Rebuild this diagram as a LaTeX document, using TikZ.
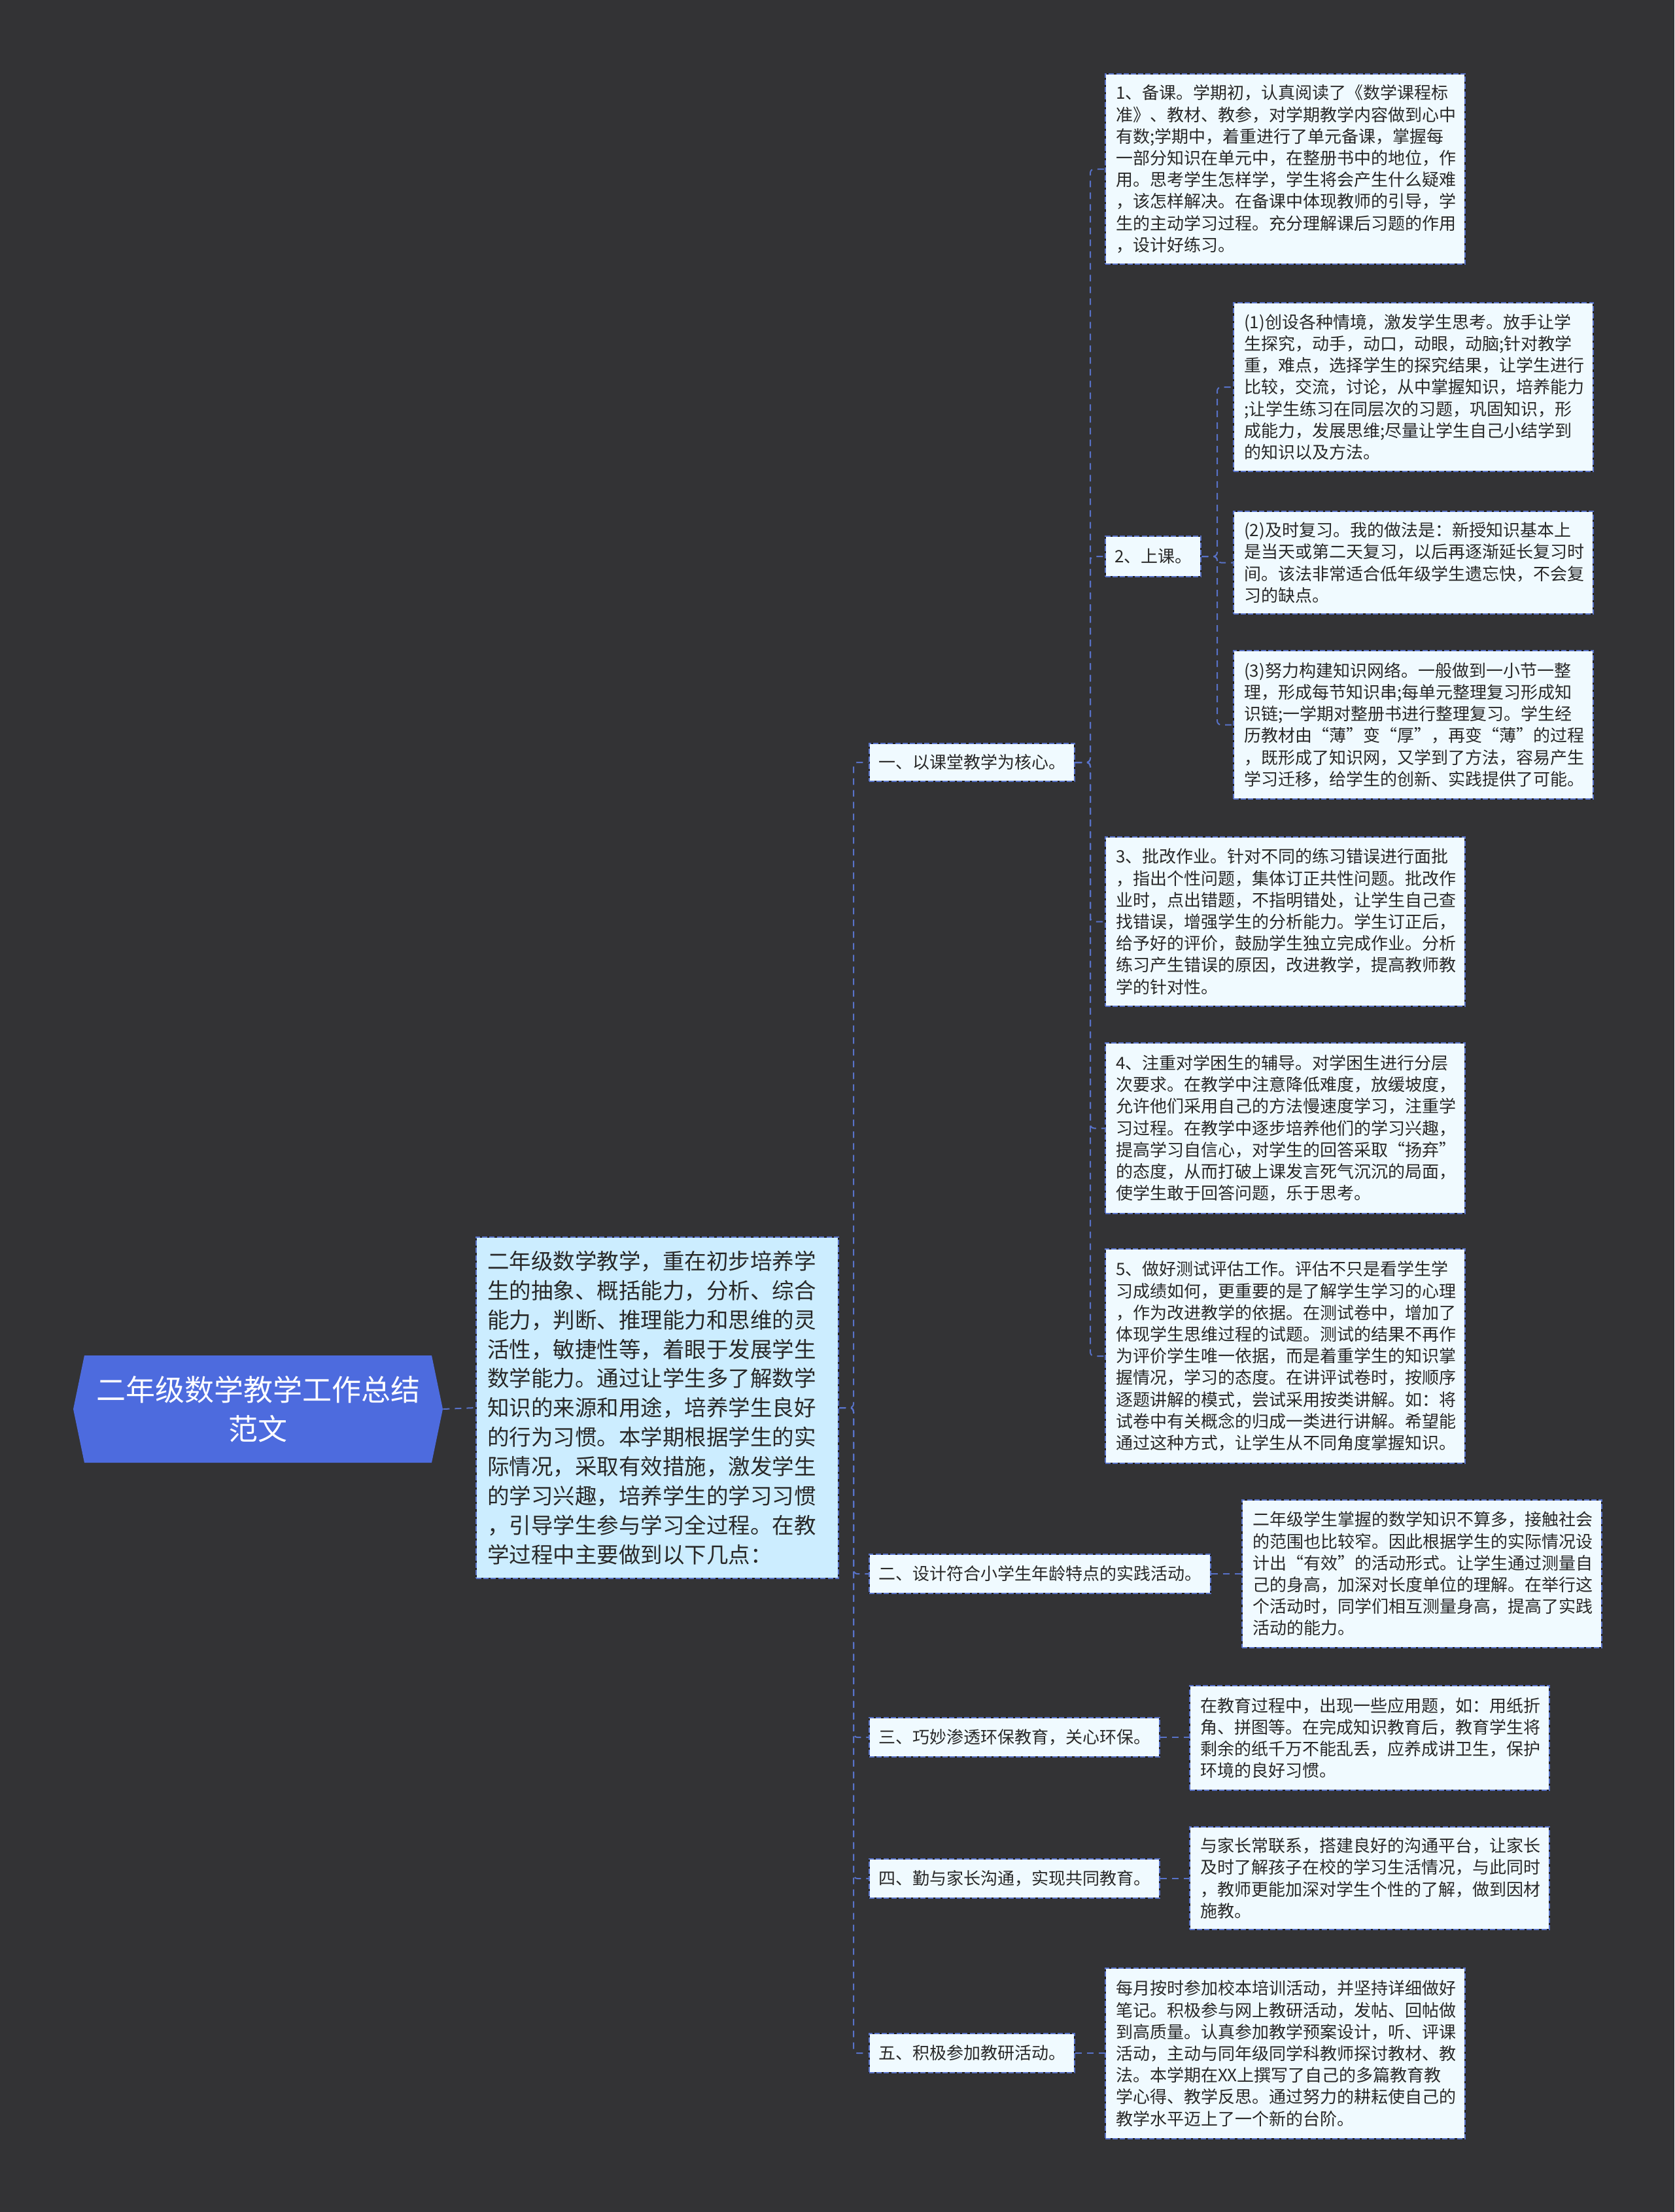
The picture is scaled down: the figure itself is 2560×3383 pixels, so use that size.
\documentclass[tikz,border=0pt]{standalone}
\usepackage{fontspec}
\setmainfont{Noto Sans CJK SC}
\definecolor{bgcol}{RGB}{51,51,53}
\definecolor{rootfill}{RGB}{77,107,222}
\definecolor{introfill}{RGB}{204,237,255}
\definecolor{boxfill}{RGB}{240,250,255}
\definecolor{bordercol}{RGB}{88,114,200}
\definecolor{edgedark}{RGB}{30,30,34}
\definecolor{textcol}{RGB}{40,40,40}
\newcommand{\detailfont}{\fontsize{13pt}{16.6pt}\selectfont}
\newcommand{\introfont}{\fontsize{16.75pt}{22.45pt}\selectfont}
\newcommand{\rootfont}{\fontsize{22.5pt}{30pt}\selectfont}
\tikzset{
  boxbase/.style={draw=edgedark, fill=boxfill, line width=1pt,
    postaction={draw=bordercol, line width=1pt, dash pattern=on 4pt off 1.6pt},
    text=textcol, align=left},
  detail/.style={boxbase, anchor=north west, inner xsep=8pt, inner ysep=3pt,
    text width=259pt, font=\detailfont},
  lvl/.style={boxbase, anchor=west, inner xsep=7pt, inner ysep=3pt,
    font=\detailfont},
  conn/.style={draw=bordercol, line width=1pt, dash pattern=on 5pt off 4pt, rounded corners=3pt},
}
\begin{document}
\begin{tikzpicture}[x=0.5pt,y=-0.5pt]
\fill[bgcol] (0,0) rectangle (2560,3383);
\useasboundingbox (0,0) rectangle (2560,3383);

% trunk coordinates
\coordinate (tr0) at (1305,0);
\coordinate (tr1) at (1667,0);
\coordinate (tr2) at (1861,0);

% root hexagon
\fill[rootfill] (129,2073) -- (660,2073) -- (677,2155) -- (660,2237) -- (129,2237) -- (112,2155) -- cycle;
\node[minimum width=282.5pt, minimum height=82pt, inner sep=0pt, align=center, text=white, font=\rootfont]
  (root) at (394.5,2155) {二年级数学教学工作总结\\范文};

% intro
\node[boxbase, fill=introfill, anchor=north west, inner xsep=8.5pt, text width=260pt,
  minimum height=261pt, font=\introfont] (intro) at (727,1891)
  {二年级数学教学，重在初步培养学\\生的抽象、概括能力，分析、综合\\能力，判断、推理能力和思维的灵\\活性，敏捷性等，着眼于发展学生\\数学能力。通过让学生多了解数学\\知识的来源和用途，培养学生良好\\的行为习惯。本学期根据学生的实\\际情况，采取有效措施，激发学生\\的学习兴趣，培养学生的学习习惯\\，引导学生参与学习全过程。在教\\学过程中主要做到以下几点：};

% level 1
\node[lvl, minimum height=29pt] (la) at (1328,1166) {一、以课堂教学为核心。};
\node[lvl, minimum height=30pt] (lb) at (1328,2407) {二、设计符合小学生年龄特点的实践活动。};
\node[lvl, minimum height=30pt] (lc) at (1328,2657) {三、巧妙渗透环保教育，关心环保。};
\node[lvl, minimum height=30pt] (ld) at (1328,2873) {四、勤与家长沟通，实现共同教育。};
\node[lvl, minimum height=30pt] (le) at (1328,3140) {五、积极参加教研活动。};

% children of 一
\node[detail, minimum height=145.5pt] (b1) at (1689,112)
  {1、备课。学期初，认真阅读了《数学课程标\\准》、教材、教参，对学期教学内容做到心中\\有数;学期中，着重进行了单元备课，掌握每\\一部分知识在单元中，在整册书中的地位，作\\用。思考学生怎样学，学生将会产生什么疑难\\，该怎样解决。在备课中体现教师的引导，学\\生的主动学习过程。充分理解课后习题的作用\\，设计好练习。};
\node[lvl, minimum height=31pt] (b2) at (1689,851) {2、上课。};
\node[detail, minimum height=129pt] (c1) at (1885,462)
  {(1)创设各种情境，激发学生思考。放手让学\\生探究，动手，动口，动眼，动脑;针对教学\\重，难点，选择学生的探究结果，让学生进行\\比较，交流，讨论，从中掌握知识，培养能力\\;让学生练习在同层次的习题，巩固知识，形\\成能力，发展思维;尽量让学生自己小结学到\\的知识以及方法。};
\node[detail, minimum height=78.5pt] (c2) at (1885,781)
  {(2)及时复习。我的做法是：新授知识基本上\\是当天或第二天复习，以后再逐渐延长复习时\\间。该法非常适合低年级学生遗忘快，不会复\\习的缺点。};
\node[detail, minimum height=113.5pt] (c3) at (1885,994)
  {(3)努力构建知识网络。一般做到一小节一整\\理，形成每节知识串;每单元整理复习形成知\\识链;一学期对整册书进行整理复习。学生经\\历教材由“薄”变“厚”，再变“薄”的过程\\，既形成了知识网，又学到了方法，容易产生\\学习迁移，给学生的创新、实践提供了可能。};
\node[detail, minimum height=129.5pt] (b3) at (1689,1279)
  {3、批改作业。针对不同的练习错误进行面批\\，指出个性问题，集体订正共性问题。批改作\\业时，点出错题，不指明错处，让学生自己查\\找错误，增强学生的分析能力。学生订正后，\\给予好的评价，鼓励学生独立完成作业。分析\\练习产生错误的原因，改进教学，提高教师教\\学的针对性。};
\node[detail, minimum height=130.5pt] (b4) at (1689,1594)
  {4、注重对学困生的辅导。对学困生进行分层\\次要求。在教学中注意降低难度，放缓坡度，\\允许他们采用自己的方法慢速度学习，注重学\\习过程。在教学中逐步培养他们的学习兴趣，\\提高学习自信心，对学生的回答采取“扬弃”\\的态度，从而打破上课发言死气沉沉的局面，\\使学生敢于回答问题，乐于思考。};
\node[detail, minimum height=164pt] (b5) at (1689,1909)
  {5、做好测试评估工作。评估不只是看学生学\\习成绩如何，更重要的是了解学生学习的心理\\，作为改进教学的依据。在测试卷中，增加了\\体现学生思维过程的试题。测试的结果不再作\\为评价学生唯一依据，而是着重学生的知识掌\\握情况，学习的态度。在讲评试卷时，按顺序\\逐题讲解的模式，尝试采用按类讲解。如：将\\试卷中有关概念的归成一类进行讲解。希望能\\通过这种方式，让学生从不同角度掌握知识。};

% details of 二..五
\node[detail, minimum height=113pt] (d2) at (1898,2293)
  {二年级学生掌握的数学知识不算多，接触社会\\的范围也比较窄。因此根据学生的实际情况设\\计出“有效”的活动形式。让学生通过测量自\\己的身高，加深对长度单位的理解。在举行这\\个活动时，同学们相互测量身高，提高了实践\\活动的能力。};
\node[detail, minimum height=80pt] (d3) at (1818,2577)
  {在教育过程中，出现一些应用题，如：用纸折\\角、拼图等。在完成知识教育后，教育学生将\\剩余的纸千万不能乱丢，应养成讲卫生，保护\\环境的良好习惯。};
\node[detail, minimum height=78.5pt] (d4) at (1818,2793)
  {与家长常联系，搭建良好的沟通平台，让家长\\及时了解孩子在校的学习生活情况，与此同时\\，教师更能加深对学生个性的了解，做到因材\\施教。};
\node[detail, minimum height=130.5pt] (d5) at (1689,3009)
  {每月按时参加校本培训活动，并坚持详细做好\\笔记。积极参与网上教研活动，发帖、回帖做\\到高质量。认真参加教学预案设计，听、评课\\活动，主动与同年级同学科教师探讨教材、教\\法。本学期在XX上撰写了自己的多篇教育教\\学心得、教学反思。通过努力的耕耘使自己的\\教学水平迈上了一个新的台阶。};

% connectors
\draw[conn] (root.east) -- (intro.west);
\foreach \t in {la,lb,lc,ld,le}
  \draw[conn] (intro.east) -- (intro.east -| tr0) |- (\t.west);
\foreach \t in {b1,b2,b3,b4,b5}
  \draw[conn] (la.east) -- (la.east -| tr1) |- (\t.west);
\foreach \t in {c1,c2,c3}
  \draw[conn] (b2.east) -- (b2.east -| tr2) |- (\t.west);
\draw[conn] (lb.east) -- (lb.east -| d2.west);
\draw[conn] (lc.east) -- (lc.east -| d3.west);
\draw[conn] (ld.east) -- (ld.east -| d4.west);
\draw[conn] (le.east) -- (le.east -| d5.west);
\end{tikzpicture}
\end{document}
